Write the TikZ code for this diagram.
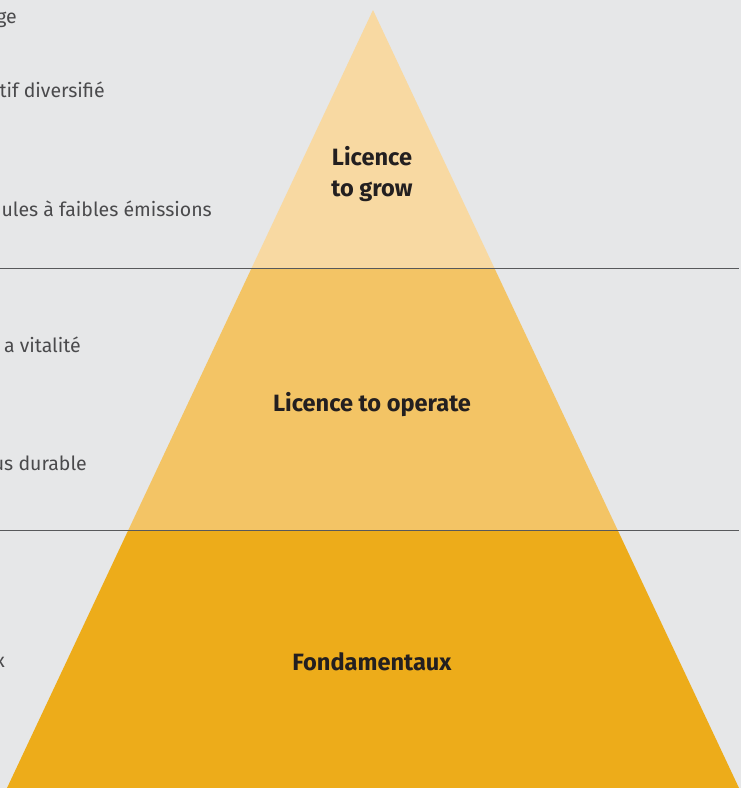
\documentclass[tikz,border=0pt]{standalone}
\usepackage{fontspec}
\setmainfont{Fira Sans}
\usetikzlibrary{positioning}
\definecolor{PyrGrey}{HTML}{E6E7E8}
\definecolor{PyrTop}{HTML}{F8D9A2}
\definecolor{PyrMid}{HTML}{F3C465}
\definecolor{PyrBase}{HTML}{EDAC1A}
\definecolor{PyrText}{HTML}{231F20}
\definecolor{SideText}{HTML}{4A4A4C}
\definecolor{RuleGrey}{HTML}{58595B}

\begin{document}
\begin{tikzpicture}[
            x=1pt, y=-1pt,
            level/.style={align=center, font=\fontsize{23.6}{31}\selectfont\bfseries, text=PyrText, inner sep=0pt},
            side/.style={anchor=base east, font=\fontsize{19.5}{24}\selectfont\light, text=SideText, inner sep=0pt},
            rule/.style={RuleGrey, line width=0.9pt}
        ]
            \providecommand\light{\fontseries{l}\selectfont}
            \fill[PyrGrey] (0,0) rectangle (741,788);
            \useasboundingbox (0,0) rectangle (741,788);
            \clip (0,0) rectangle (741,788);

            % pyramid bands
            \coordinate (apex) at (373,10);
            \coordinate (baseL) at (7,788);
            \coordinate (baseR) at (739,788);
            \begin{scope}
                \clip (apex) -- (baseR) -- (baseL) -- cycle;
                \fill[PyrTop] (0,0) rectangle (741,268);
                \fill[PyrMid] (0,268) rectangle (741,530);
                \fill[PyrBase] (0,530) rectangle (741,788);
            \end{scope}

            \coordinate (r1L) at (0,268);
            \coordinate (r1R) at (739,268);
            \coordinate (r2L) at (0,530);
            \coordinate (r2R) at (739,530);
            \draw[rule] (r1L) -- (r1R);
            \draw[rule] (r2L) -- (r2R);

            \node[level] (grow) at (372,174) {Licence\\to grow};
            \node[level] (operate) at (372,405) {Licence to operate};
            \node[level] (fond) at (372,662) {Fondamentaux};

            \node[side] (s1) at (17,23) {ge};
            \node[side] (s2) at (105,97) {tif diversifié};
            \node[side] (s3) at (212,216) {ules à faibles émissions};
            \node[side] (s4) at (81,352) {a vitalité};
            \node[side] (s5) at (87,470) {us durable};
            \node[side] (s6) at (5,667) {x};
        \end{tikzpicture}
\end{document}
